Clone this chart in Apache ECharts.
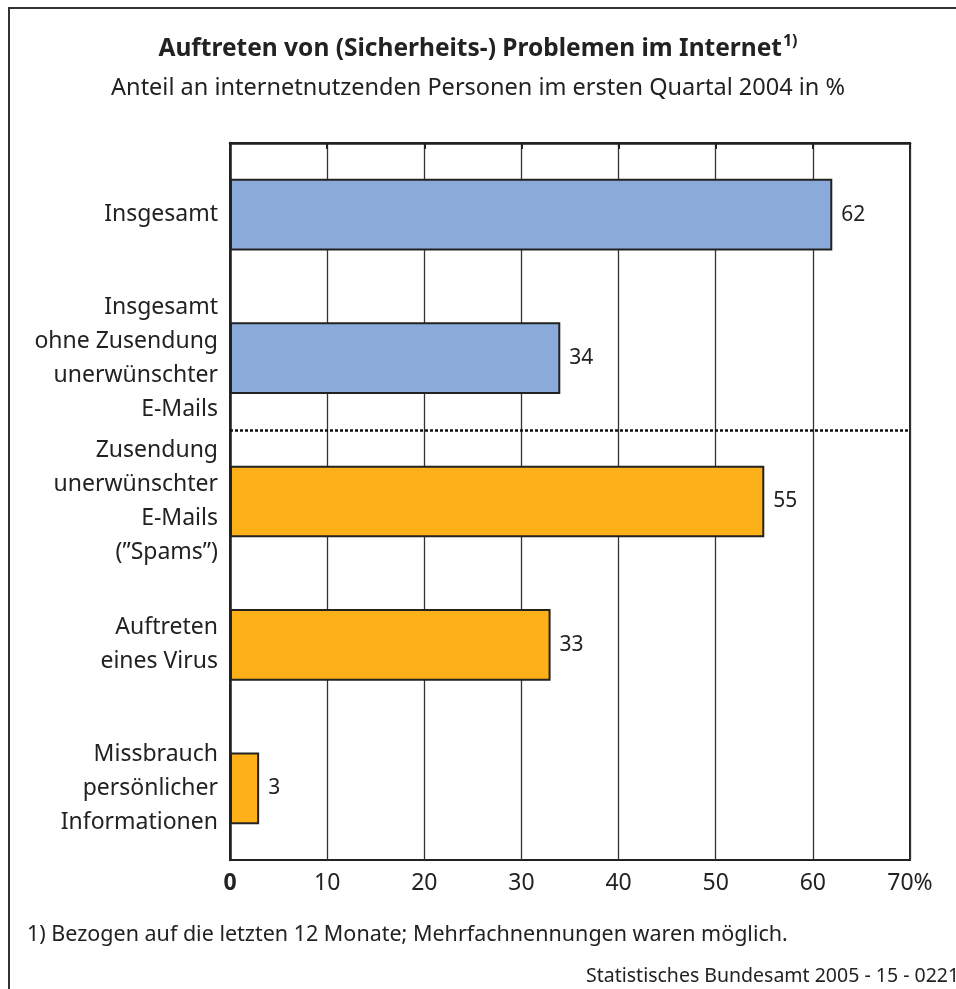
<!DOCTYPE html>
<html><head><meta charset="utf-8">
<script src="https://cdn.jsdelivr.net/npm/echarts@6/dist/echarts.min.js"></script>
<style>html,body{margin:0;padding:0;background:#fff}#c{width:956px;height:989px}</style>
</head><body><div id="c"></div>
<script>
const categories = [
  "Insgesamt",
  "Insgesamt\nohne Zusendung\nunerwünschter\nE-Mails",
  "Zusendung\nunerwünschter\nE-Mails\n(\u201DSpams\u201D)",
  "Auftreten\neines Virus",
  "Missbrauch\npersönlicher\nInformationen"
];
const values = [62, 34, 55, 33, 3];
const groups = ["total", "total", "part", "part", "part"];
const xTicks = [0, 10, 20, 30, 40, 50, 60, 70];
const groupColors = { total: "#8aabd9", part: "#fdb018" };
const separatorAfterCount = 2; // dotted line after the first 2 categories

const FONT = "Noto Sans";
const chart = echarts.init(document.getElementById('c'), null, { renderer: 'canvas' });
chart.setOption({
  backgroundColor: '#fff',
  animation: false,
  textStyle: { fontFamily: FONT, color: '#222' },
  title: [{
    text: '{t|Auftreten von (Sicherheits-) Problemen im Internet}{s|1)}',
    left: 'center', top: 28,
    textStyle: { rich: {
      t: { fontFamily: FONT, fontSize: 24.5, fontWeight: 'bold', color: '#222', lineHeight: 32 },
      s: { fontFamily: FONT, fontSize: 16, color: '#222', verticalAlign: 'top', padding: [0,0,14,1] }
    } }
  }, {
    text: 'Anteil an internetnutzenden Personen im ersten Quartal 2004 in %',
    left: 'center', top: 71,
    textStyle: { fontFamily: FONT, fontSize: 23.5, fontWeight: 'normal', color: '#222' }
  }, {
    text: '1) Bezogen auf die letzten 12 Monate; Mehrfachnennungen waren möglich.',
    left: 22, top: 919,
    textStyle: { fontFamily: FONT, fontSize: 21.5, fontWeight: 'normal', color: '#222' }
  }, {
    text: 'Statistisches Bundesamt 2005 - 15 - 0221',
    left: 581, top: 961,
    textStyle: { fontFamily: FONT, fontSize: 19.5, fontWeight: 'normal', color: '#222' }
  }],
  graphic: [{
    type: 'rect', shape: { x: 9, y: 8, width: 1000, height: 1000 },
    style: { fill: 'none', stroke: '#333', lineWidth: 2 }, silent: true
  }],
  grid: { left: 230, right: 46, top: 143, bottom: 129, show: true, borderColor: '#222', borderWidth: 2, containLabel: false },
  xAxis: {
    type: 'value', min: 0, max: 70, interval: 10,
    axisLine: { show: true, lineStyle: { color: '#222', width: 2.5 } },
    axisTick: { show: true, length: 6, inside: false, lineStyle: { color: '#222', width: 2 } },
    splitLine: { show: true, lineStyle: { color: '#333', width: 1.3 } },
    axisLabel: {
      margin: 12, fontSize: 23, color: '#222', fontFamily: FONT,
      formatter: v => v === 70 ? '70%' : (v === 0 ? '{b|0}' : String(v)),
      rich: { b: { fontSize: 23, fontWeight: 'bold', color: '#222', fontFamily: FONT } },
      customValues: xTicks
    }
  },
  yAxis: [{
    type: 'category', data: categories, inverse: true,
    axisLine: { show: true, lineStyle: { color: '#222', width: 2.5 } },
    axisTick: { show: false },
    axisLabel: { margin: 12, fontSize: 23, lineHeight: 34, color: '#222', align: 'right', fontFamily: FONT }
  }, {
    type: 'value', min: 0, max: categories.length, inverse: true, show: false,
    axisLine: { show: false }, splitLine: { show: false }, axisLabel: { show: false }, axisTick: { show: false }
  }],
  series: [{
    type: 'bar',
    barWidth: '50%',
    data: values.map((v, i) => ({ value: v, itemStyle: { color: groupColors[groups[i]] } })),
    itemStyle: { borderColor: '#222', borderWidth: 2 },
    label: { show: true, position: 'right', distance: 9, fontSize: 21, color: '#222', fontFamily: FONT }
  }, {
    type: 'line', yAxisIndex: 1, data: [], silent: true,
    markLine: {
      silent: true, symbol: 'none', label: { show: false },
      lineStyle: { type: [3, 2], color: '#111', width: 2.5 },
      data: [{ yAxis: separatorAfterCount }]
    }
  }]
});
</script>
</body></html>
